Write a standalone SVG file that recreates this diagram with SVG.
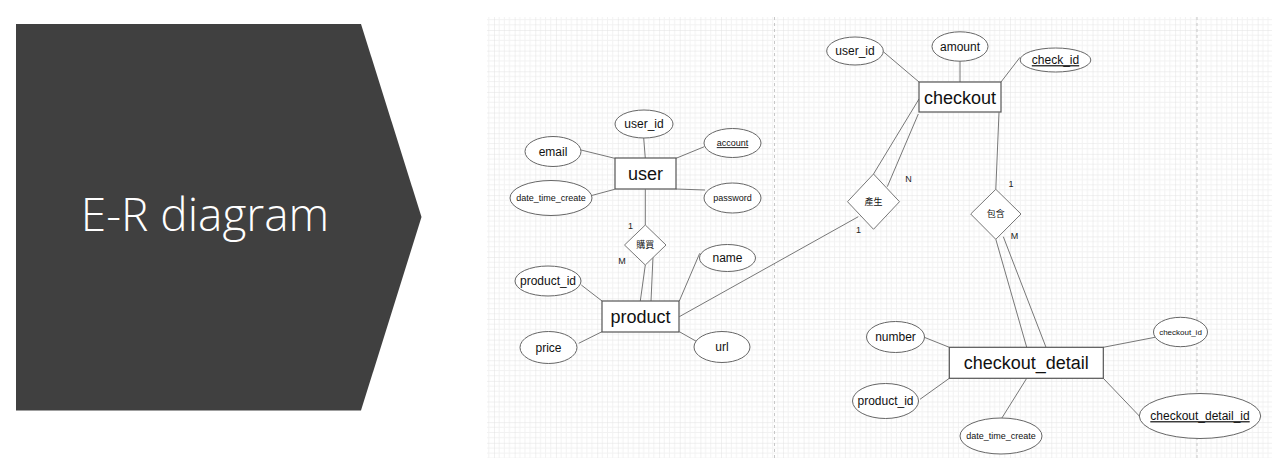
<svg xmlns="http://www.w3.org/2000/svg" width="1284" height="464" viewBox="0 0 1284 464">
<style>
.ent{fill:#fff;stroke:#555;stroke-width:1.2}
.att{fill:#fff;stroke:#666;stroke-width:1}
.rel{fill:#fff;stroke:#777;stroke-width:1}
.conn line{stroke:#777;stroke-width:1}
text{font-family:"Liberation Sans",Arial,"Noto Sans CJK TC",sans-serif;fill:#111;text-anchor:middle}
.et{font-size:18px}
.at{font-size:12px}
.sm{font-size:9px}
.xs{font-size:8px}
.lb{font-size:9px;fill:#222}
.u{text-decoration:underline}
</style>
<defs>
<pattern id="grid" patternUnits="userSpaceOnUse" x="494" y="30" width="20.64" height="20.64">
<path d="M5.16 0V20.64M10.32 0V20.64M15.48 0V20.64M0 5.16H20.64M0 10.32H20.64M0 15.48H20.64" stroke="#f2f2f2" stroke-width="1" fill="none"/>
<path d="M0 0V20.64M0 0H20.64" stroke="#e2e2e2" stroke-width="1" fill="none"/>
</pattern>
</defs>
<rect width="1284" height="464" fill="#fff"/>
<g id="title">
<polygon points="16,24 361,24 421.5,217 361,410.5 16,410.5" fill="#404040"/>
<text x="205" y="231" style="font-family:'Open Sans','Noto Sans',sans-serif;font-weight:300;font-size:46px;fill:#fff">E-R diagram</text>
</g>
<g id="canvas">
<rect x="487" y="17" width="785" height="441" fill="url(#grid)"/>
<line x1="774.5" y1="17" x2="774.5" y2="458" stroke="#c8c8c8" stroke-dasharray="3,3"/>
<line x1="1197" y1="17" x2="1197" y2="458" stroke="#c8c8c8" stroke-dasharray="3,3"/>
</g>
<g id="connectors" class="conn">
<line x1="643.7" y1="138" x2="645.3" y2="158.3"/>
<line x1="581" y1="150" x2="614.7" y2="158.3"/>
<line x1="704.3" y1="146.7" x2="676" y2="158.3"/>
<line x1="591" y1="195.7" x2="614.7" y2="189.3"/>
<line x1="705" y1="190" x2="676" y2="189"/>
<line x1="645.3" y1="189.3" x2="645.3" y2="225"/>
<line x1="645.3" y1="265" x2="640.3" y2="301"/>
<line x1="653" y1="256.7" x2="651" y2="301"/>
<line x1="699.7" y1="253.3" x2="679.3" y2="301"/>
<line x1="581.3" y1="285" x2="602" y2="301"/>
<line x1="578.7" y1="343.3" x2="602" y2="331.7"/>
<line x1="679.3" y1="331.7" x2="697" y2="341.7"/>
<line x1="679.3" y1="316.7" x2="858.3" y2="216.7"/>
<line x1="883.3" y1="51.7" x2="919" y2="82"/>
<line x1="960" y1="61" x2="960" y2="82"/>
<line x1="1020" y1="57.3" x2="1001" y2="82"/>
<line x1="919" y1="99" x2="873.5" y2="174"/>
<line x1="918.3" y1="114" x2="887.3" y2="186.7"/>
<line x1="999" y1="112.3" x2="995.8" y2="189.3"/>
<line x1="995.8" y1="239.3" x2="1026.7" y2="347.3"/>
<line x1="1003.3" y1="236.7" x2="1046" y2="347.3"/>
<line x1="924.3" y1="337.3" x2="949.3" y2="347.3"/>
<line x1="920" y1="399.3" x2="949.3" y2="378.3"/>
<line x1="1001.7" y1="418.3" x2="1026.7" y2="378.3"/>
<line x1="1103.3" y1="347.3" x2="1155" y2="337.3"/>
<line x1="1103.3" y1="378.3" x2="1139.3" y2="416"/>
</g>
<g id="labels">
<text class="lb" x="630.5" y="229">1</text>
<text class="lb" x="622" y="263.5">M</text>
<text class="lb" x="908.5" y="181.5">N</text>
<text class="lb" x="858.5" y="232.5">1</text>
<text class="lb" x="1011" y="186.5">1</text>
<text class="lb" x="1014.5" y="238.5">M</text>
</g>
<g id="user">
<rect class="ent" x="615" y="158" width="61" height="31"/>
<text class="et" x="645.5" y="180">user</text>
</g>
<g id="user_user_id">
<ellipse class="att" cx="644" cy="124" rx="29" ry="14"/>
<text class="at" x="644" y="128.2">user_id</text>
</g>
<g id="user_email">
<ellipse class="att" cx="553" cy="151.5" rx="28" ry="15"/>
<text class="at" x="553" y="155.7">email</text>
</g>
<g id="user_account">
<ellipse class="att" cx="732.5" cy="143" rx="28.5" ry="14.5"/>
<text class="sm u" x="732.5" y="146.2">account</text>
</g>
<g id="user_date_time_create">
<ellipse class="att" cx="551" cy="198" rx="41" ry="17.5"/>
<text class="sm" x="551" y="201.2">date_time_create</text>
</g>
<g id="user_password">
<ellipse class="att" cx="732.5" cy="198" rx="28.5" ry="15"/>
<text class="sm" x="732.5" y="201.2">password</text>
</g>
<g id="rel_buy">
<polygon class="rel" points="645.3,225 666,245 645.3,265 624.5,245"/>
<text class="sm" x="645.3" y="248.3">購買</text>
</g>
<g id="product">
<rect class="ent" x="602" y="301" width="77" height="31"/>
<text class="et" x="640.5" y="323">product</text>
</g>
<g id="product_name">
<ellipse class="att" cx="727.5" cy="258" rx="28" ry="13.5"/>
<text class="at" x="727.5" y="262.2">name</text>
</g>
<g id="product_product_id">
<ellipse class="att" cx="548" cy="281" rx="33" ry="15"/>
<text class="at" x="548" y="285.2">product_id</text>
</g>
<g id="product_price">
<ellipse class="att" cx="548.5" cy="347.5" rx="28.5" ry="16"/>
<text class="at" x="548.5" y="351.7">price</text>
</g>
<g id="product_url">
<ellipse class="att" cx="722" cy="347" rx="28" ry="15.5"/>
<text class="at" x="722" y="351.2">url</text>
</g>
<g id="rel_produce">
<polygon class="rel" points="873.5,174 899.5,201.7 873.5,229.3 847.5,201.7"/>
<text class="sm" x="873.5" y="205">產生</text>
</g>
<g id="checkout">
<rect class="ent" x="919" y="82" width="82" height="30"/>
<text class="et" x="960" y="103.5">checkout</text>
</g>
<g id="checkout_user_id">
<ellipse class="att" cx="855" cy="51" rx="28.3" ry="14"/>
<text class="at" x="855" y="55.2">user_id</text>
</g>
<g id="checkout_amount">
<ellipse class="att" cx="960" cy="46.5" rx="28" ry="14.7"/>
<text class="at" x="960" y="50.7">amount</text>
</g>
<g id="checkout_check_id">
<ellipse class="att" cx="1055.5" cy="60" rx="35.3" ry="12"/>
<text class="at u" x="1055.5" y="64.2">check_id</text>
</g>
<g id="rel_contain">
<polygon class="rel" points="995.8,189.3 1021,214 995.8,239.3 970.7,214"/>
<text class="sm" x="995.8" y="217.3">包含</text>
</g>
<g id="checkout_detail">
<rect class="ent" x="949.3" y="347.3" width="154" height="31"/>
<text class="et" x="1026.3" y="369.3">checkout_detail</text>
</g>
<g id="detail_number">
<ellipse class="att" cx="895.5" cy="337" rx="29" ry="15.5"/>
<text class="at" x="895.5" y="341.2">number</text>
</g>
<g id="detail_product_id">
<ellipse class="att" cx="885.5" cy="401" rx="33" ry="17.5"/>
<text class="at" x="885.5" y="405.2">product_id</text>
</g>
<g id="detail_date_time_create">
<ellipse class="att" cx="1001" cy="436" rx="41" ry="18"/>
<text class="sm" x="1001" y="439.2">date_time_create</text>
</g>
<g id="detail_checkout_id">
<ellipse class="att" cx="1180.5" cy="332" rx="27" ry="14.7"/>
<text class="xs" x="1180.5" y="334.9">checkout_id</text>
</g>
<g id="detail_checkout_detail_id">
<ellipse class="att" cx="1200" cy="416" rx="60.7" ry="22.5"/>
<text class="at u" x="1200" y="420.2">checkout_detail_id</text>
</g>
</svg>
